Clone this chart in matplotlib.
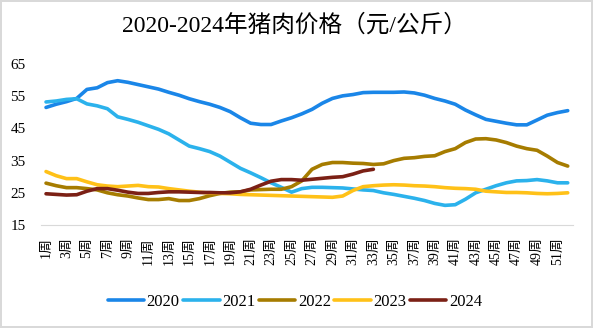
import matplotlib.pyplot as plt
import numpy as np

plt.rcParams['font.family'] = ['Liberation Serif', 'Noto Sans CJK SC']

weeks = np.arange(1, 53)

# 周度猪肉价格（元/公斤），读自原图
p2020 = [51.5, 52.5, 53.3, 54.3, 57.1, 57.6, 59.2, 59.8, 59.3, 58.6,
         57.9, 57.2, 56.2, 55.3, 54.2, 53.3, 52.5, 51.5, 50.2, 48.3,
         46.6, 46.2, 46.2, 47.3, 48.3, 49.5, 50.9, 52.8, 54.3, 55.1,
         55.5, 56.1, 56.2, 56.2, 56.2, 56.3, 56.0, 55.3, 54.3, 53.5,
         52.5, 50.7, 49.2, 47.8, 47.2, 46.6, 46.1, 46.1, 47.6, 49.1,
         49.9, 50.5]
p2021 = [53.2, 53.5, 54.0, 54.2, 52.6, 52.0, 51.1, 48.6, 47.8, 46.9,
         45.8, 44.7, 43.3, 41.4, 39.5, 38.7, 37.8, 36.4, 34.5, 32.6,
         31.2, 29.7, 28.1, 26.7, 25.2, 26.3, 26.7, 26.7, 26.6, 26.5,
         26.2, 25.9, 25.7, 25.0, 24.5, 23.9, 23.3, 22.6, 21.7, 21.1,
         21.3, 23.0, 25.0, 26.1, 27.2, 28.1, 28.7, 28.8, 29.1, 28.7,
         28.1, 28.1]
p2022 = [28.0, 27.2, 26.6, 26.6, 26.3, 25.9, 25.0, 24.4, 24.0, 23.4,
         22.9, 22.9, 23.2, 22.6, 22.6, 23.2, 24.1, 24.8, 25.2, 25.3,
         25.9, 26.0, 26.1, 26.1, 26.9, 28.7, 32.3, 33.8, 34.4, 34.4,
         34.2, 34.1, 33.8, 34.0, 35.0, 35.7, 35.9, 36.3, 36.5, 37.8,
         38.7, 40.6, 41.7, 41.8, 41.4, 40.6, 39.5, 38.7, 38.2, 36.4,
         34.4, 33.3]
p2023 = [31.6, 30.3, 29.4, 29.4, 28.4, 27.5, 27.1, 26.9, 27.1, 27.3,
         26.9, 26.8, 26.3, 25.9, 25.5, 25.2, 24.9, 24.8, 24.7, 24.5,
         24.4, 24.3, 24.2, 24.1, 24.0, 23.9, 23.8, 23.7, 23.6, 24.0,
         25.7, 26.9, 27.2, 27.4, 27.5, 27.4, 27.2, 27.1, 26.9, 26.6,
         26.4, 26.3, 26.1, 25.5, 25.3, 25.1, 25.1, 25.0, 24.8, 24.7,
         24.8, 25.0]
p2024 = [24.7, 24.5, 24.3, 24.4, 25.5, 26.3, 26.3, 25.8, 25.2, 24.8,
         24.8, 25.1, 25.3, 25.3, 25.2, 25.1, 25.1, 25.0, 25.0, 25.3,
         26.1, 27.4, 28.6, 29.1, 29.1, 28.9, 29.2, 29.5, 29.8, 30.0,
         30.8, 31.8, 32.3]

years = ['2020', '2021', '2022', '2023', '2024']
series = [p2020, p2021, p2022, p2023, p2024]
colors = ['#1a86e8', '#2bb2ec', '#a67c00', '#ffc118', '#7b2015']

fig = plt.figure(figsize=(5.93, 3.28), dpi=100)
fig.patch.set_edgecolor('#d9d9d9')
fig.patch.set_linewidth(1.5)
ax = fig.add_axes([0.069, 0.314, 0.897, 0.491])

for name, vals, c in zip(years, series, colors):
    ax.plot(weeks[:len(vals)], vals, color=c, lw=2.6, label=name,
            solid_capstyle='round')

ax.set_xlim(0.5, 52.5)
ax.set_ylim(15, 65)
ax.set_yticks(range(15, 66, 10))
ax.set_xticks(weeks[::2])
ax.set_xticklabels([f'{w}周' for w in weeks[::2]], rotation=90, fontsize=10)
ax.tick_params(axis='y', length=0, pad=11, labelsize=11)
ax.tick_params(axis='x', length=0, pad=9)
for s in ['top', 'right', 'left']:
    ax.spines[s].set_visible(False)
ax.spines['bottom'].set_color('#d9d9d9')

fig.text(0.497, 0.922, '2020-2024年猪肉价格（元/公斤）', ha='center', va='center',
         fontsize=17)

fig.legend(loc='center', bbox_to_anchor=(0.497, 0.079), ncol=5, frameon=False,
           fontsize=12, handlelength=2.2, handletextpad=0.15, columnspacing=0.2)

fig.savefig('out.png', dpi=100)
